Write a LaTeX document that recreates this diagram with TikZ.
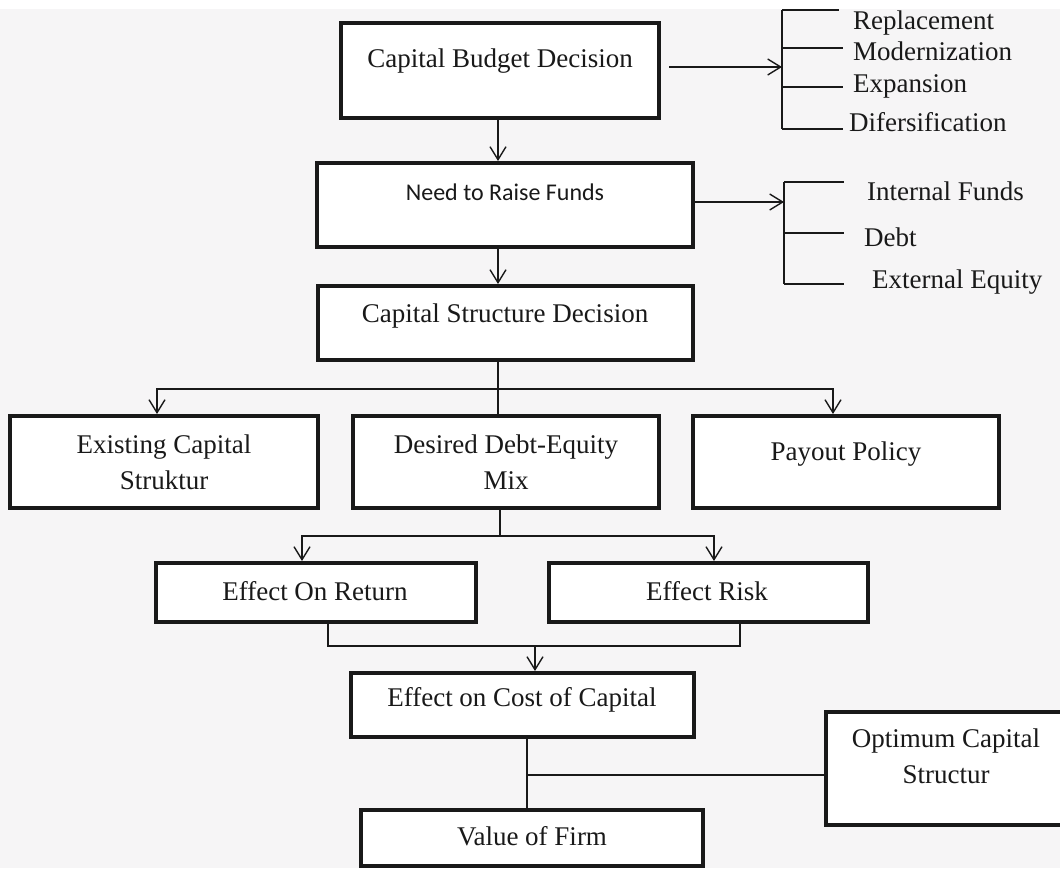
\documentclass[tikz,border=0pt]{standalone}
\usepackage{fontspec}
\setmainfont{Liberation Serif}
\newfontfamily\calib{Carlito}
\usetikzlibrary{arrows.meta}
\definecolor{bgc}{RGB}{246,245,246}
\definecolor{ink}{RGB}{25,25,25}
\tikzset{
  box/.style={draw=ink, line width=4pt, fill=white, inner sep=0pt},
  txt/.style={text=ink, font=\fontsize{27}{36}\selectfont, inner sep=0pt, align=center, anchor=base},
  itemtxt/.style={text=ink, font=\fontsize{27}{36}\selectfont, inner sep=0pt, anchor=base west},
  conn/.style={draw=ink, line width=1.4pt},
  arr/.style={conn, -{Straight Barb[length=13pt,width=16pt,line width=1.4pt]}},
}
\begin{document}
\begin{tikzpicture}[x=1pt,y=-1pt]
\useasboundingbox (0,0) rectangle (1060,868);
\fill[bgc] (0,0) rectangle (1060,868);
\fill[white] (0,0) rectangle (1060,9);

% boxes
\node[box, minimum width=318pt, minimum height=95pt] (cbd) at (500,70.5) {};
\node[box, minimum width=376pt, minimum height=84pt] (need) at (505,205) {};
\node[box, minimum width=375pt, minimum height=74pt] (csd) at (505.5,323) {};
\node[box, minimum width=308pt, minimum height=92pt] (exist) at (164,462) {};
\node[box, minimum width=306pt, minimum height=92pt] (desired) at (506,462) {};
\node[box, minimum width=306pt, minimum height=92pt] (payout) at (846,462) {};
\node[box, minimum width=320pt, minimum height=59pt] (ret) at (316,592.5) {};
\node[box, minimum width=319pt, minimum height=59pt] (risk) at (708.5,592.5) {};
\node[box, minimum width=343pt, minimum height=64pt] (cost) at (522.5,705) {};
\node[box, minimum width=240pt, minimum height=113pt] (opt) at (946,768.5) {};
\node[box, minimum width=342pt, minimum height=56pt] (value) at (532,838) {};

% box texts (base = baseline of last line)
\node[txt] (tcbd) at (500,67) {Capital Budget Decision};
\node[txt, font=\calib\fontsize{24}{30}\selectfont] (tneed) at (505,200) {Need to Raise Funds};
\node[txt] (tcsd) at (505,322) {Capital Structure Decision};
\node[txt] (texist) at (164,489) {Existing Capital\\Struktur};
\node[txt] (tdesired) at (506,489) {Desired Debt-Equity\\Mix};
\node[txt] (tpayout) at (846,460) {Payout Policy};
\node[txt] (tret) at (315,600) {Effect On Return};
\node[txt] (trisk) at (707,600) {Effect Risk};
\node[txt] (tcost) at (522,706) {Effect on Cost of Capital};
\node[txt] (topt) at (946,783) {Optimum Capital\\Structur};
\node[txt] (tvalue) at (532,845) {Value of Firm};

% bracket 1
\coordinate (b1t) at (782,10);
\coordinate (b1b) at (782,129);
\coordinate (b1a) at (782,67);
\draw[conn] (b1t) -- (b1b);
\draw[conn] (b1t) -- ++(57,0);
\draw[conn] (782,48) -- ++(61,0);
\draw[conn] (782,87) -- ++(61,0);
\draw[conn] (b1b) -- ++(61,0);
\node[itemtxt] (i1) at (853,29) {Replacement};
\node[itemtxt] (i2) at (853,60) {Modernization};
\node[itemtxt] (i3) at (853,92) {Expansion};
\node[itemtxt] (i4) at (849,131) {Difersification};

% bracket 2
\coordinate (b2t) at (784,182);
\coordinate (b2b) at (784,284);
\coordinate (b2a) at (784,202);
\draw[conn] (b2t) -- (b2b);
\draw[conn] (b2t) -- ++(60,0);
\draw[conn] (784,233) -- ++(60,0);
\draw[conn] (b2b) -- ++(60,0);
\node[itemtxt] (j1) at (867,200) {Internal Funds};
\node[itemtxt] (j2) at (864,246) {Debt};
\node[itemtxt] (j3) at (872,288) {External Equity};

% connectors
\draw[arr] (b1a -| cbd.east) ++(8,0) -- (b1a);
\draw[arr] (b2a -| need.east) -- (b2a);
\draw[arr] ([xshift=-2pt]cbd.south) -- ([xshift=-2pt]cbd.south |- need.north);
\draw[arr] ([xshift=-7pt]need.south) -- ([xshift=-7pt]need.south |- csd.north);

\coordinate (s1) at (498,389);
\draw[conn] ([xshift=-7.5pt]csd.south) -- ([xshift=-7.5pt]csd.south |- desired.north);
\draw[arr] (s1) -| ([xshift=-7pt]exist.north);
\draw[arr] (s1) -| ([xshift=-13pt]payout.north);

\coordinate (s2) at (500,536);
\draw[conn] (desired.south -| s2) -- (s2);
\draw[arr] (s2) -| ([xshift=-14pt]ret.north);
\draw[arr] (s2) -| ([xshift=5.5pt]risk.north);

\coordinate (s3) at (535,646);
\draw[conn] ([xshift=12pt]ret.south) |- (s3);
\draw[conn] ([xshift=31.5pt]risk.south) |- (s3);
\draw[arr] (s3) -- (s3 |- cost.north);

\coordinate (s4) at (527,775);
\draw[conn] (cost.south -| s4) -- (value.north -| s4);
\draw[conn] (s4) -- (s4 -| opt.west);
\end{tikzpicture}
\end{document}
